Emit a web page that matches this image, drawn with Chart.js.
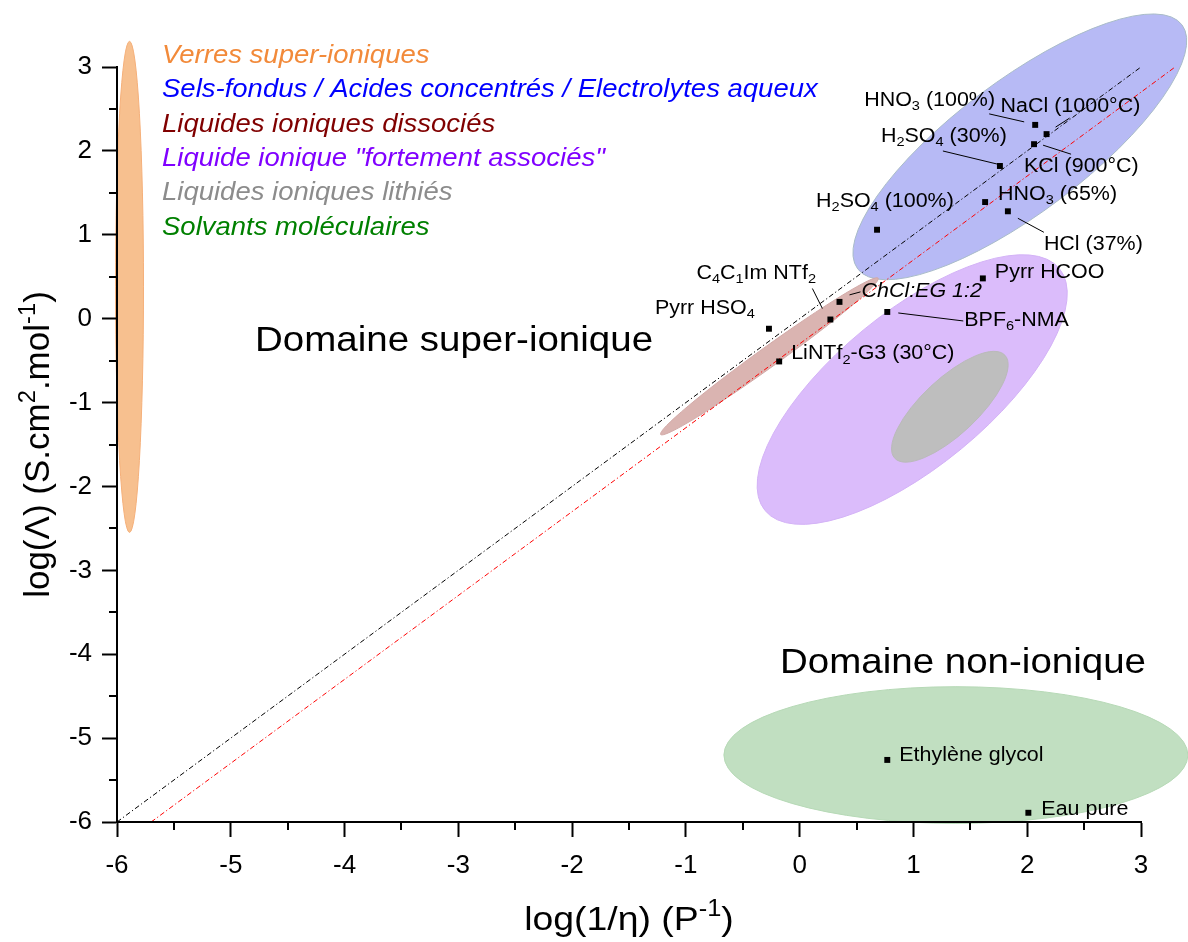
<!DOCTYPE html>
<html>
<head>
<meta charset="utf-8">
<script src="https://cdn.jsdelivr.net/npm/chart.js@4/dist/chart.umd.min.js"></script>
<style>
  html, body { margin: 0; background: #fff; }
  #wrap { width: 1188px; height: 942px; }
</style>
</head>
<body>
<div id="wrap"><canvas id="walden" width="1188" height="942"></canvas></div>
<script>
// Walden plot: log(Lambda) vs log(1/eta)

// compounds (markers)
const pointNames = [
  'HNO_{3} (100%)', 'NaCl (1000°C)', 'KCl (900°C)', 'H_{2}SO_{4} (30%)', 'HNO_{3} (65%)',
  'HCl (37%)', 'H_{2}SO_{4} (100%)', 'Pyrr HCOO', 'ChCl:EG 1:2', 'C_{4}C_{1}Im NTf_{2}',
  'Pyrr HSO_{4}', 'LiNTf_{2}-G3 (30°C)', 'BPF_{6}-NMA', 'Ethylène glycol', 'Eau pure'
];
const pointX = [2.07, 2.17, 2.06, 1.76, 1.63, 1.83, 0.68, 1.61, 0.35, 0.27, -0.27, -0.18, 0.77, 0.77, 2.01];
const pointY = [2.31, 2.20, 2.08, 1.82, 1.39, 1.28, 1.06, 0.48, 0.20, -0.01, -0.12, -0.51, 0.08, -5.26, -5.89];

// ideal KCl line and the shifted red line
const idealX = [-6, 3];
const idealY = [-6, 3];
const redX = [-5.7, 3.3];
const redY = [-6, 3.0];

// domains drawn as ellipses: centre and two conjugate semi-diameters (data units)
const domainNames = [
  'Verres super-ioniques',
  'Sels-fondus / Acides concentrés / Electrolytes aqueux',
  'Liquides ioniques dissociés',
  'Liquide ionique "fortement associés"',
  'Liquides ioniques lithiés',
  'Solvants moléculaires'
];
const domainCx = [-5.89, 1.935, -0.266, 0.989, 1.32, 1.373];
const domainCy = [0.379, 2.048, -0.449, -0.845, -1.05, -5.202];
const domainUx = [0.123, 1.425, 0.956, 1.293, 0.484, 2.039];
const domainUy = [0, 1.455, 0.932, 1.443, 0.614, 0];
const domainVx = [0, 0.349, 0.0513, 0.431, 0.168, 0];
const domainVy = [2.927, -0.627, -0.0967, -0.708, -0.243, 0.815];

// styles
const domainFill = ['#f7c08f', '#b7baf5', '#dab4b1', '#dbbcfb', '#bebebe', '#c1dfc1'];
const domainEdge = ['#f5b07a', '#a9bcc8', '#d2aaa8', '#d3b2f6', '#bababa', '#b6d9b6'];
const legendColors = ['#f28a3a', '#0000ff', '#800000', '#8000ff', '#8c8c8c', '#008000'];
const drawOrder = [0, 5, 1, 2, 3, 4];

// label placement relative to each marker (pixels): text start + optional leader line
const labelDx = [-171, -46, -10, -119, 13, 36, -61, 12, 22, -134, -114, 12, 77, 12, 13];
const labelDy = [-19, -22, 28, -24, -2, 39, -23, 0, -5, -41, -15, -2, 14, 1, 2];
const leaders = [
  [-46, -11, -11, -3], [9, -7, 23, -16], [9, 1, 37, 10], [-57, -15, -3, -2], null,
  [10, 7, 36, 21], null, null, [10, -7, 21, -10], [-18, -31, -8, -11],
  null, null, [11, 1, 76, 9], null, null
];

const FONT = "'Liberation Sans', Arial, sans-serif";
const STRETCH = 1.1;

// text with _{sub} and ^{sup} parts
function richText(ctx, str, x, y, size, opt = {}) {
  const italic = opt.italic ? 'italic ' : '';
  const stretch = opt.stretch || STRETCH;
  const segs = str.split(/(_\{[^}]*\}|\^\{[^}]*\})/).filter(Boolean).map(p => {
    if (p.startsWith('_{')) return { t: p.slice(2, -1), s: size * 0.68, dy: size * 0.22 };
    if (p.startsWith('^{')) return { t: p.slice(2, -1), s: size * 0.68, dy: -size * 0.4 };
    return { t: p, s: size, dy: 0 };
  });
  ctx.save();
  ctx.translate(x, y);
  if (opt.rotate) ctx.rotate(opt.rotate);
  ctx.scale(stretch, 1);
  let w = 0;
  segs.forEach(sg => {
    ctx.font = italic + sg.s + 'px ' + FONT;
    sg.w = ctx.measureText(sg.t).width;
    w += sg.w;
  });
  let cx = opt.align === 'center' ? -w / 2 : 0;
  ctx.fillStyle = opt.color || '#000';
  ctx.textBaseline = 'alphabetic';
  ctx.textAlign = 'left';
  segs.forEach(sg => {
    ctx.font = italic + sg.s + 'px ' + FONT;
    ctx.fillText(sg.t, cx, sg.dy);
    cx += sg.w;
  });
  ctx.restore();
}

const domainsPlugin = {
  id: 'domains',
  beforeDatasetsDraw(chart) {
    const { ctx, scales: { x, y } } = chart;
    drawOrder.forEach(i => {
      const cx = x.getPixelForValue(domainCx[i]);
      const cy = y.getPixelForValue(domainCy[i]);
      const ux = x.getPixelForValue(domainCx[i] + domainUx[i]) - cx;
      const uy = y.getPixelForValue(domainCy[i] + domainUy[i]) - cy;
      const vx = x.getPixelForValue(domainCx[i] + domainVx[i]) - cx;
      const vy = y.getPixelForValue(domainCy[i] + domainVy[i]) - cy;
      ctx.save();
      ctx.beginPath();
      ctx.transform(ux, uy, vx, vy, cx, cy);
      ctx.arc(0, 0, 1, 0, Math.PI * 2);
      ctx.restore();
      ctx.save();
      ctx.fillStyle = domainFill[i];
      ctx.fill();
      ctx.strokeStyle = domainEdge[i];
      ctx.lineWidth = 1;
      ctx.stroke();
      ctx.restore();
    });
  },
  afterDatasetsDraw(chart) {
    const { ctx, scales: { x, y } } = chart;
    // leader lines + labels
    pointNames.forEach((name, i) => {
      const px = x.getPixelForValue(pointX[i]);
      const py = y.getPixelForValue(pointY[i]);
      const ld = leaders[i];
      if (ld) {
        ctx.save();
        ctx.strokeStyle = '#000';
        ctx.lineWidth = 1;
        ctx.beginPath();
        ctx.moveTo(px + ld[0], py + ld[1]);
        ctx.lineTo(px + ld[2], py + ld[3]);
        ctx.stroke();
        ctx.restore();
      }
      richText(ctx, name, px + labelDx[i], py + labelDy[i], 19.5, { italic: name.startsWith('ChCl') });
    });
    // legend block
    domainNames.forEach((name, i) => {
      richText(ctx, name, 162, 63 + i * 34.3, 25, { italic: true, color: legendColors[i] });
    });
    richText(ctx, 'Domaine super-ionique', 255, 351, 35);
    richText(ctx, 'Domaine non-ionique', 780, 673, 35);
  },
  afterDraw(chart) {
    const { ctx, chartArea: a, scales: { x, y } } = chart;
    // minor ticks at half units
    ctx.save();
    ctx.strokeStyle = '#000';
    ctx.lineWidth = 2;
    ctx.beginPath();
    for (let v = -5.5; v < 3; v += 1) {
      const px = Math.round(x.getPixelForValue(v));
      ctx.moveTo(px, a.bottom);
      ctx.lineTo(px, a.bottom + 8);
      const py = Math.round(y.getPixelForValue(v));
      ctx.moveTo(a.left, py);
      ctx.lineTo(a.left - 8, py);
    }
    ctx.stroke();
    ctx.restore();
    // axis titles
    richText(ctx, 'log(1/η) (P^{-1})', (a.left + a.right) / 2, 930, 34, { align: 'center' });
    richText(ctx, 'log(Λ) (S.cm^{2}.mol^{-1})', 49, (a.top + a.bottom) / 2, 35,
      { align: 'center', rotate: -Math.PI / 2, stretch: 1 });
  }
};

const tickFont = { size: 26, family: FONT };

new Chart(document.getElementById('walden'), {
  type: 'scatter',
  data: {
    datasets: [
      {
        data: pointX.map((v, i) => ({ x: v, y: pointY[i] })),
        pointStyle: 'rect',
        pointRadius: 4.2,
        backgroundColor: '#000',
        borderWidth: 0
      },
      {
        type: 'line',
        data: idealX.map((v, i) => ({ x: v, y: idealY[i] })),
        borderColor: '#000',
        borderWidth: 1,
        borderDash: [5, 2.5, 1.2, 2.5],
        pointRadius: 0,
        fill: false,
        clip: false
      },
      {
        type: 'line',
        data: redX.map((v, i) => ({ x: v, y: redY[i] })),
        borderColor: '#ff0000',
        borderWidth: 1,
        borderDash: [5, 2.5, 1.2, 2.5],
        pointRadius: 0,
        fill: false,
        clip: false
      }
    ]
  },
  options: {
    responsive: false,
    animation: false,
    layout: { padding: { top: 67, right: 47, bottom: 0, left: 0 } },
    plugins: { legend: { display: false }, tooltip: { enabled: false } },
    scales: {
      x: {
        type: 'linear',
        min: -6,
        max: 3,
        afterFit: s => { s.height = 120; },
        ticks: { stepSize: 1, padding: 13, color: '#000', font: tickFont, z: 1 },
        grid: { drawOnChartArea: false, tickLength: 15, tickWidth: 2, tickColor: '#000', z: 1 },
        border: { color: '#000', width: 2, z: 1 }
      },
      y: {
        type: 'linear',
        min: -6,
        max: 3,
        afterFit: s => { s.width = 117; },
        ticks: { stepSize: 1, padding: 10, color: '#000', font: tickFont, z: 1 },
        grid: { drawOnChartArea: false, tickLength: 15, tickWidth: 2, tickColor: '#000', z: 1 },
        border: { color: '#000', width: 2, z: 1 }
      }
    }
  },
  plugins: [domainsPlugin]
});
</script>
</body>
</html>
